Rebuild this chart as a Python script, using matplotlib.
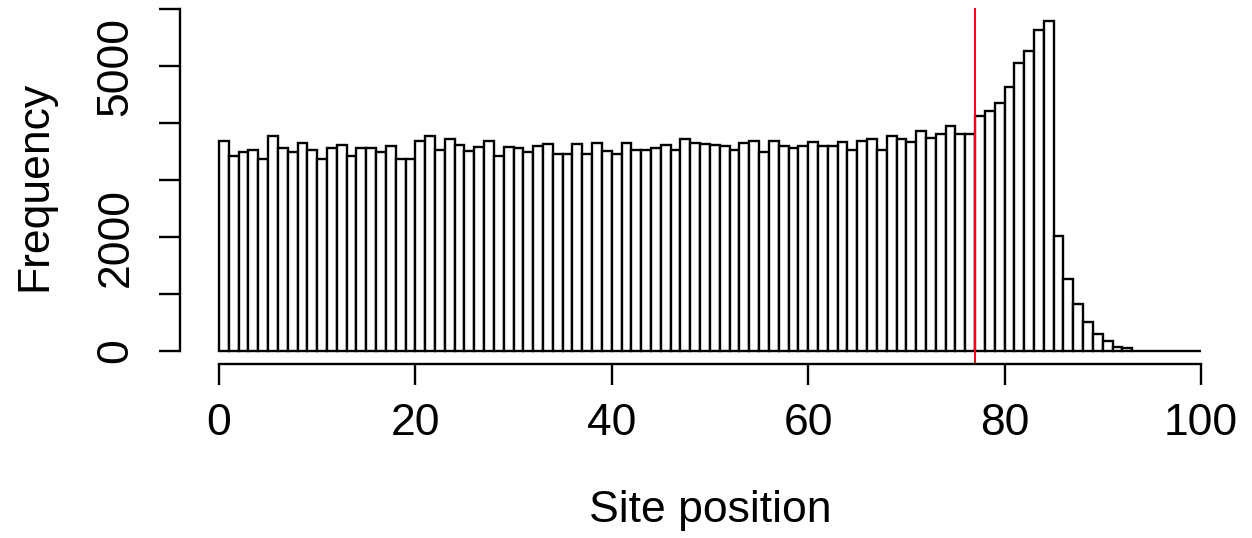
import matplotlib
matplotlib.use("Agg")
import matplotlib.pyplot as plt
import numpy as np

plt.rcParams['font.family'] = ['Liberation Sans', 'DejaVu Sans']

# histogram counts per unit bin, bins 0-1, 1-2, ... 99-100
counts = [
    3689, 3426, 3497, 3521, 3380, 3784, 3556, 3497, 3649, 3538,
    3380, 3556, 3614, 3432, 3556, 3556, 3497, 3608, 3380, 3380,
    3689, 3784, 3538, 3731, 3626, 3509, 3585, 3689, 3426, 3579,
    3556, 3497, 3608, 3632, 3468, 3468, 3632, 3468, 3649, 3509,
    3468, 3649, 3538, 3538, 3556, 3614, 3538, 3731, 3649, 3632,
    3615, 3596, 3526, 3649, 3689, 3497, 3689, 3596, 3556, 3596,
    3667, 3608, 3608, 3667, 3538, 3689, 3731, 3538, 3784, 3731,
    3667, 3860, 3749, 3819, 3953, 3819, 3819, 4123, 4211, 4363,
    4637, 5058, 5263, 5632, 5789, 2018, 1257, 825, 503, 298,
    181, 76, 53, 0, 0, 0, 0, 0, 0, 0,
]
bin_edges = np.arange(0, 101)
cutoff = 77

x_ticks = [0, 20, 40, 60, 80, 100]
y_ticks = [0, 1000, 2000, 3000, 4000, 5000, 6000]
y_tick_labels = ['0', '', '2000', '', '', '5000', '']

fig = plt.figure(figsize=(12.52, 5.38), dpi=100)
ax = fig.add_axes([0.1435, 0.3230, 0.8471, 0.6619])

ax.bar(bin_edges[:-1], counts, width=1, align='edge',
       facecolor='white', edgecolor='black', linewidth=1.7)
ax.axvline(cutoff, color='#ff0000', linewidth=1.4)

# R-style plot region: 4% padding around data range
ax.set_xlim(-4, 104)
ax.set_ylim(-0.04 * max(counts), 1.04 * max(counts))

for s in ['top', 'right']:
    ax.spines[s].set_visible(False)
ax.spines['left'].set_bounds(0, 6000)
ax.spines['bottom'].set_bounds(0, 100)
for s in ['left', 'bottom']:
    ax.spines[s].set_linewidth(1.7)

ax.set_xticks(x_ticks)
ax.set_xticklabels([str(v) for v in x_ticks])
ax.set_yticks(y_ticks)
ax.set_yticklabels(y_tick_labels, rotation=90, va='center')
ax.tick_params(axis='both', length=15, width=1.7, labelsize=32)
ax.tick_params(axis='x', pad=13)
ax.tick_params(axis='y', pad=16)

ax.set_xlabel('Site position', fontsize=32, labelpad=33)
ax.set_ylabel('Frequency', fontsize=32, labelpad=29)

fig.savefig('out.png', dpi=100)
